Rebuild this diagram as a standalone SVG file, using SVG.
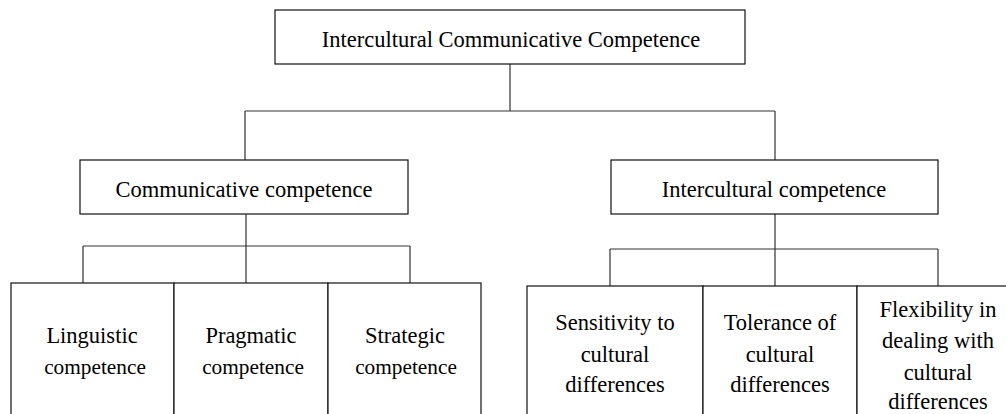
<svg xmlns="http://www.w3.org/2000/svg" width="1006" height="414" viewBox="0 0 1006 414">
<style>
.box{fill:#fff;stroke:#111;stroke-width:1.2}
.ln{fill:none;stroke:#333;stroke-width:1.2}
.c{font-size:21.3px}
</style>
<rect width="1006" height="414" fill="#fff"/>
<g id="connectors">
<path class="ln" d="M510 64V111M245 111H775M245 111V160M775 111V160"/>
<path class="ln" d="M246 214V246M83 246H410M83 246V283M246 246V283M410 246V283"/>
<path class="ln" d="M775 214V249M610 249H938M610 249V286M775 249V286M938 249V286"/>
</g>
<g font-family="Liberation Serif, Times New Roman, serif" font-size="22.5" fill="#000" text-anchor="middle">
<g id="root"><rect class="box" x="275" y="10" width="470" height="54"/><text x="511" y="47">Intercultural Communicative Competence</text></g>
<g id="communicative"><rect class="box" x="80" y="160" width="328" height="54"/><text x="244" y="197">Communicative competence</text></g>
<g id="intercultural"><rect class="box" x="611" y="160" width="327" height="54"/><text x="774" y="197">Intercultural competence</text></g>
<g id="linguistic"><rect class="box" x="11" y="283" width="163" height="140"/><text x="92" y="343">Linguistic</text><text class="c" x="95" y="374">competence</text></g>
<g id="pragmatic"><rect class="box" x="174" y="283" width="154" height="140"/><text x="251" y="343">Pragmatic</text><text class="c" x="253" y="374">competence</text></g>
<g id="strategic"><rect class="box" x="328" y="283" width="153" height="140"/><text x="405" y="343">Strategic</text><text class="c" x="406" y="374">competence</text></g>
<g id="sensitivity"><rect class="box" x="527" y="286" width="176" height="140"/><text x="615" y="330">Sensitivity to</text><text x="615" y="362">cultural</text><text x="615" y="392">differences</text></g>
<g id="tolerance"><rect class="box" x="703" y="286" width="154" height="140"/><text x="780" y="330">Tolerance of</text><text x="780" y="362">cultural</text><text x="780" y="392">differences</text></g>
<g id="flexibility"><rect class="box" x="857" y="286" width="160" height="140"/><text x="938" y="317">Flexibility in</text><text x="938" y="348">dealing with</text><text x="938" y="380">cultural</text><text x="938" y="409">differences</text></g>
</g>
</svg>
